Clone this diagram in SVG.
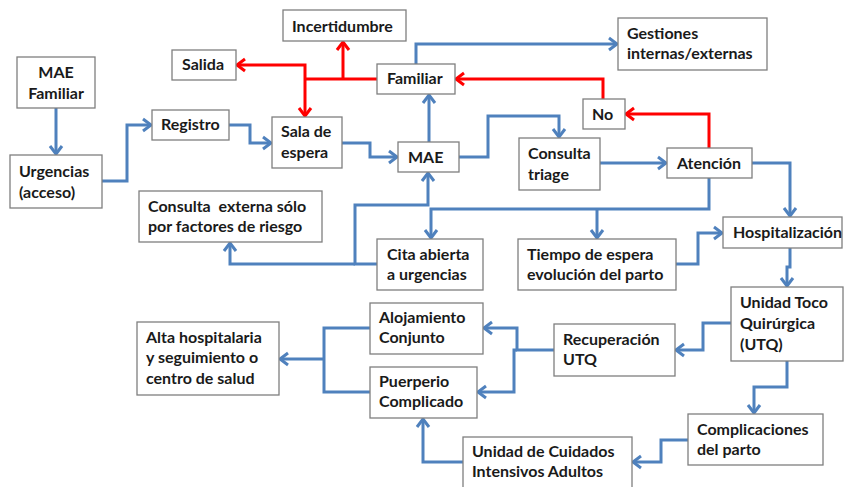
<svg xmlns="http://www.w3.org/2000/svg" width="847" height="487" viewBox="0 0 847 487">
  <style>
    .box rect { fill: #ffffff; stroke: #7f7f7f; stroke-width: 1.3; }
    .box text { font-family: Lato, "Liberation Sans", sans-serif; font-weight: bold; font-size: 16px; fill: #1a1a1a; white-space: pre; }
    .blue { fill: none; stroke: #4f81bd; stroke-width: 3; stroke-linejoin: miter; marker-end: url(#arrowBlue); }
    .red { fill: none; stroke: #ff0000; stroke-width: 3; stroke-linejoin: miter; }
    .red.arr { marker-end: url(#arrowRed); }
  </style>
  <defs>
    <marker id="arrowBlue" markerUnits="userSpaceOnUse" markerWidth="14" markerHeight="16" refX="9" refY="7" orient="auto" viewBox="0 0 14 14">
      <path d="M1,1 L9,7 L1,13" fill="none" stroke="#4f81bd" stroke-width="3" stroke-linejoin="miter"/>
    </marker>
    <marker id="arrowRed" markerUnits="userSpaceOnUse" markerWidth="14" markerHeight="16" refX="9" refY="7" orient="auto" viewBox="0 0 14 14">
      <path d="M1,1 L9,7 L1,13" fill="none" stroke="#ff0000" stroke-width="3" stroke-linejoin="miter"/>
    </marker>
  </defs>
  <rect width="847" height="487" fill="#ffffff"/>

  <!-- connectors -->
  <g id="connectors">
    <!-- red paths -->
    <polyline class="red" points="377,79 305,79"/>
    <polyline class="red arr" points="305,79 305,65 237,65"/>
    <polyline class="red arr" points="305,79 305,116"/>
    <polyline class="red arr" points="343,79 343,42"/>
    <polyline class="red arr" points="709,148 709,114 626,114"/>
    <polyline class="red arr" points="603,99 603,79 456,79"/>
    <!-- blue paths -->
    <polyline class="blue" points="56,108 56,154"/>
    <polyline class="blue" points="102,181 127,181 127,125 151,125"/>
    <polyline class="blue" points="229,125 250,125 250,143 271,143"/>
    <polyline class="blue" points="342,143 370,143 370,157 397,157"/>
    <polyline class="blue" points="429,142 429,95"/>
    <polyline class="blue" points="459,157 488,157 488,116 559,116 559,137"/>
    <polyline class="blue" points="416,64 416,44 617,44"/>
    <polyline class="blue" points="600,163 666,163"/>
    <polyline class="blue" points="752,163 790,163 790,216"/>
    <polyline class="blue" points="709,178 709,209 431,209 431,238"/>
    <polyline class="blue" points="597,209 597,238"/>
    <polyline class="blue" points="676,264 698,264 698,233 722,233"/>
    <polyline class="blue" points="377,264 355,264 355,205 428,205 428,173"/>
    <polyline class="blue" points="355,264 230,264 230,243"/>
    <polyline class="blue" points="790,248 790,267 787,267 787,286"/>
    <polyline class="blue" points="731,323 703,323 703,350 676,350"/>
    <polyline class="blue" points="554,350 517,350 517,328 484,328"/>
    <polyline class="blue" points="517,350 514,350 514,392 478,392"/>
    <polyline style="fill:none;stroke:#4f81bd;stroke-width:3" points="370,328 324,328 324,392 370,392"/>
    <polyline class="blue" points="324,359 280,359"/>
    <polyline class="blue" points="787,361 787,387 754,387 754,413"/>
    <polyline class="blue" points="688,440 661,440 661,462 633,462"/>
    <polyline class="blue" points="463,462 423,462 423,419"/>
  </g>

  <!-- nodes -->
  <g id="mae-familiar" class="box">
    <rect x="17" y="57" width="78" height="51"/>
    <text x="56" y="78" text-anchor="middle">MAE</text>
    <text x="56" y="99" text-anchor="middle">Familiar</text>
  </g>
  <g id="urgencias" class="box">
    <rect x="10" y="155" width="92" height="53"/>
    <text x="19" y="177">Urgencias</text>
    <text x="19" y="198">(acceso)</text>
  </g>
  <g id="registro" class="box">
    <rect x="152" y="110" width="77" height="30"/>
    <text x="161" y="130">Registro</text>
  </g>
  <g id="salida" class="box">
    <rect x="172" y="50" width="64" height="30"/>
    <text x="182" y="70">Salida</text>
  </g>
  <g id="incertidumbre" class="box">
    <rect x="283" y="10" width="123" height="31"/>
    <text x="292" y="32">Incertidumbre</text>
  </g>
  <g id="familiar" class="box">
    <rect x="377" y="64" width="78" height="30"/>
    <text x="387" y="84">Familiar</text>
  </g>
  <g id="sala-espera" class="box">
    <rect x="272" y="117" width="70" height="51"/>
    <text x="281" y="137">Sala de</text>
    <text x="281" y="158">espera</text>
  </g>
  <g id="mae" class="box">
    <rect x="398" y="142" width="61" height="30"/>
    <text x="408" y="163">MAE</text>
  </g>
  <g id="consulta-triage" class="box">
    <rect x="519" y="138" width="81" height="52"/>
    <text x="528" y="159">Consulta</text>
    <text x="528" y="180">triage</text>
  </g>
  <g id="gestiones" class="box">
    <rect x="618" y="18" width="149" height="52"/>
    <text x="627" y="39">Gestiones</text>
    <text x="627" y="59">internas/externas</text>
  </g>
  <g id="no" class="box">
    <rect x="583" y="99" width="42" height="30"/>
    <text x="592" y="120">No</text>
  </g>
  <g id="atencion" class="box">
    <rect x="667" y="148" width="85" height="30"/>
    <text x="677" y="169">Atención</text>
  </g>
  <g id="consulta-externa" class="box">
    <rect x="139" y="191" width="183" height="51"/>
    <text x="148" y="212">Consulta  externa sólo</text>
    <text x="148" y="232">por factores de riesgo</text>
  </g>
  <g id="cita-abierta" class="box">
    <rect x="377" y="239" width="106" height="51"/>
    <text x="387" y="260">Cita abierta</text>
    <text x="387" y="280">a urgencias</text>
  </g>
  <g id="tiempo-espera" class="box">
    <rect x="518" y="239" width="158" height="51"/>
    <text x="527" y="260">Tiempo de espera</text>
    <text x="527" y="280">evolución del parto</text>
  </g>
  <g id="hospitalizacion" class="box">
    <rect x="723" y="217" width="119" height="31"/>
    <text x="733" y="238">Hospitalización</text>
  </g>
  <g id="utq" class="box">
    <rect x="731" y="287" width="112" height="74"/>
    <text x="740" y="308">Unidad Toco</text>
    <text x="740" y="329">Quirúrgica</text>
    <text x="740" y="350">(UTQ)</text>
  </g>
  <g id="recuperacion" class="box">
    <rect x="554" y="324" width="121" height="52"/>
    <text x="563" y="345">Recuperación</text>
    <text x="563" y="365">UTQ</text>
  </g>
  <g id="alojamiento" class="box">
    <rect x="370" y="303" width="113" height="51"/>
    <text x="379" y="323">Alojamiento</text>
    <text x="379" y="343">Conjunto</text>
  </g>
  <g id="puerperio" class="box">
    <rect x="370" y="367" width="107" height="51"/>
    <text x="379" y="387">Puerperio</text>
    <text x="379" y="407">Complicado</text>
  </g>
  <g id="alta" class="box">
    <rect x="137" y="322" width="142" height="73"/>
    <text x="146" y="343">Alta hospitalaria</text>
    <text x="146" y="363">y seguimiento o</text>
    <text x="146" y="384">centro de salud</text>
  </g>
  <g id="complicaciones" class="box">
    <rect x="688" y="414" width="135" height="51"/>
    <text x="697" y="435">Complicaciones</text>
    <text x="697" y="455">del parto</text>
  </g>
  <g id="uci" class="box">
    <rect x="463" y="437" width="169" height="54"/>
    <text x="472" y="457">Unidad de Cuidados</text>
    <text x="472" y="477">Intensivos Adultos</text>
  </g>
</svg>
